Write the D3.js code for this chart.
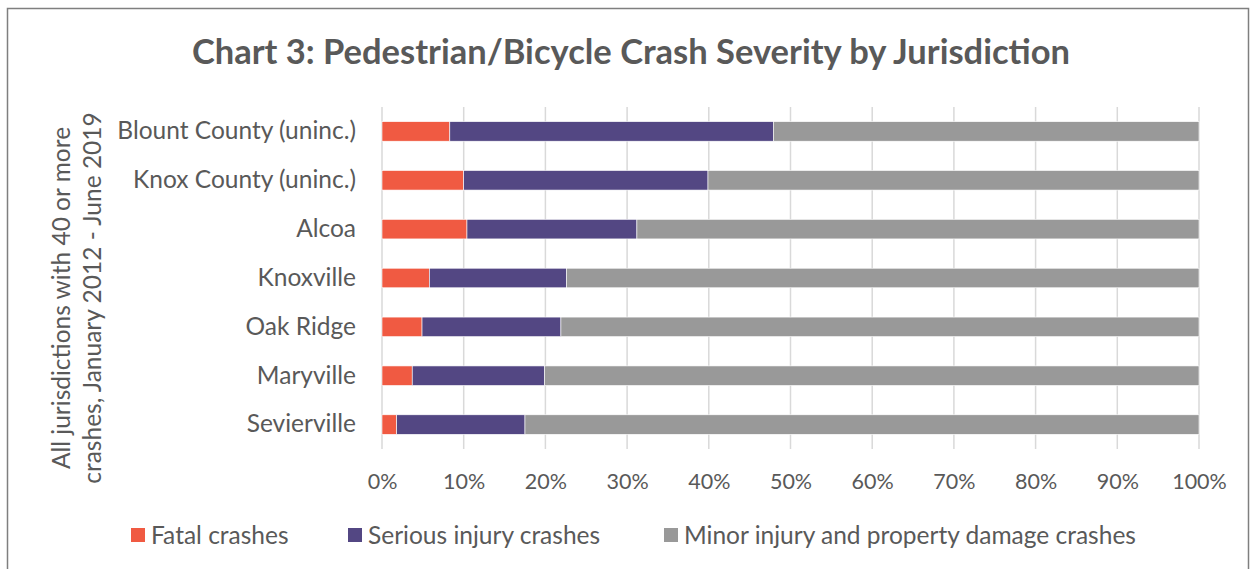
<!DOCTYPE html>
<html>
<head>
<meta charset="utf-8">
<script src="https://cdn.jsdelivr.net/npm/d3@7"></script>
<style>
  body { margin: 0; background: #fff; }
  svg { display: block; font-family: Lato, "Open Sans", sans-serif; }
</style>
</head>
<body>
<div id="chart"></div>
<script>
// data (shares of crashes, %)
var jurisdictions = ["Blount County (uninc.)", "Knox County (uninc.)", "Alcoa", "Knoxville", "Oak Ridge", "Maryville", "Sevierville"];
var fatal   = [8.3, 10.0, 10.4, 5.8, 4.9, 3.7, 1.8];
var serious = [39.6, 29.9, 20.8, 16.8, 17.0, 16.2, 15.7];
var minor   = [52.1, 60.1, 68.8, 77.4, 78.1, 80.1, 82.5];
var seriesNames = ["Fatal crashes", "Serious injury crashes", "Minor injury and property damage crashes"];
var seriesColors = ["#f05a42", "#534783", "#999999"];
var xTicks = [0, 10, 20, 30, 40, 50, 60, 70, 80, 90, 100];

var width = 1250,
    height = 569,
    margin = {top: 107, right: 51, bottom: 120, left: 382},
    textColor = "#595959",
    labelSize = "24.5px";

var rows = jurisdictions.map(function(name, i) {
    return {name: name, fatal: fatal[i], serious: serious[i], minor: minor[i]};
});
var keys = ["fatal", "serious", "minor"];
var stacked = d3.stack().keys(keys)(rows);

var svg = d3.select("#chart").append("svg")
    .attr("width", width)
    .attr("height", height);

// outer frame
svg.append("rect")
    .attr("x", 7.5).attr("y", 8.5)
    .attr("width", 1241).attr("height", 580)
    .attr("fill", "none")
    .attr("stroke", "#7f7f7f")
    .attr("stroke-width", 1.5);

var x = d3.scaleLinear().domain([0, 100]).range([margin.left, width - margin.right]);
var y = d3.scaleBand().domain(jurisdictions)
    .range([margin.top, height - margin.bottom])
    .paddingInner(0.6).paddingOuter(0.3);

// title
svg.append("text")
    .attr("x", 631).attr("y", 64)
    .attr("text-anchor", "middle")
    .attr("fill", textColor)
    .style("font-size", "34.5px")
    .style("font-weight", "bold")
    .text("Chart 3: Pedestrian/Bicycle Crash Severity by Jurisdiction");

// vertical gridlines
svg.append("g")
    .selectAll("line")
    .data(xTicks)
    .enter()
    .append("line")
    .attr("x1", function(d) { return x(d); })
    .attr("x2", function(d) { return x(d); })
    .attr("y1", margin.top)
    .attr("y2", height - margin.bottom)
    .attr("stroke", "#d9d9d9")
    .attr("stroke-width", 1.5);

// bars
svg.append("g")
    .selectAll("g")
    .data(stacked)
    .enter()
    .append("g")
    .attr("fill", function(d, i) { return seriesColors[i]; })
    .selectAll("rect")
    .data(function(d) { return d; })
    .enter()
    .append("rect")
    .attr("x", function(d) { return x(d[0]); })
    .attr("width", function(d) { return x(d[1]) - x(d[0]); })
    .attr("y", function(d) { return y(d.data.name); })
    .attr("height", y.bandwidth())
    .attr("stroke", "#fff")
    .attr("stroke-width", 0.6);

// x axis labels
var xAxis = d3.axisBottom(x)
    .tickValues(xTicks)
    .tickSize(0)
    .tickPadding(0)
    .tickFormat(function(d) { return d + "%"; });

var gx = svg.append("g")
    .attr("transform", "translate(0," + (height - margin.bottom) + ")")
    .call(xAxis);
gx.select(".domain").remove();
gx.selectAll("text")
    .attr("dy", null)
    .attr("y", 40)
    .attr("fill", textColor)
    .style("font-size", "21.5px")
    .style("font-family", "Lato, sans-serif");

// category labels
var yAxis = d3.axisLeft(y).tickSize(0).tickPadding(26);
var gy = svg.append("g")
    .attr("transform", "translate(" + margin.left + ",0)")
    .call(yAxis);
gy.select(".domain").remove();
gy.selectAll("text")
    .attr("fill", textColor)
    .style("font-size", labelSize)
    .style("font-family", "Lato, sans-serif");

// y axis title, two lines
var yTitle = svg.append("text")
    .attr("transform", "translate(77," + 298 + ") rotate(-90)")
    .attr("text-anchor", "middle")
    .attr("fill", textColor)
    .style("font-size", labelSize);
yTitle.append("tspan").attr("x", 0).attr("dy", "-0.3em").text("All jurisdictions with 40 or more");
yTitle.append("tspan").attr("x", 0).attr("dy", "1.27em").text("crashes, January 2012 - June 2019");

// legend
var legendX = [131, 348, 664];
var legend = svg.append("g")
    .selectAll("g")
    .data(seriesNames)
    .enter()
    .append("g")
    .attr("transform", function(d, i) { return "translate(" + legendX[i] + ",528)"; });

legend.append("rect")
    .attr("width", 14).attr("height", 14)
    .attr("fill", function(d, i) { return seriesColors[i]; });

legend.append("text")
    .attr("x", 20).attr("y", 7)
    .attr("dy", "0.36em")
    .attr("fill", textColor)
    .style("font-size", labelSize)
    .text(function(d) { return d; });
</script>
</body>
</html>
